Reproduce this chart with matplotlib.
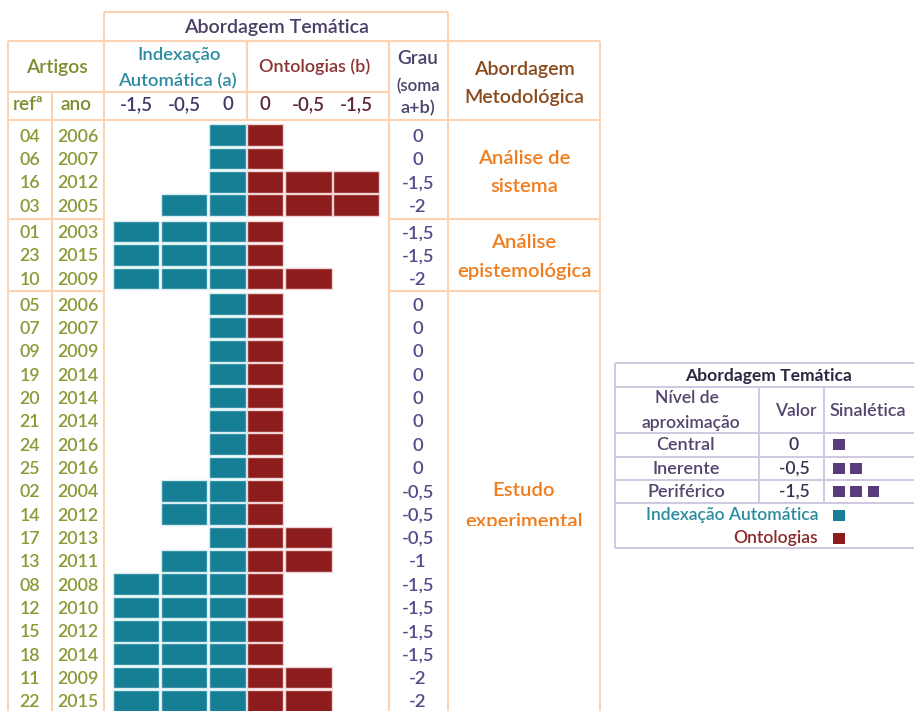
import matplotlib
matplotlib.use('Agg')
import matplotlib.pyplot as plt
from matplotlib.patches import Rectangle

# ---------------- data ----------------
refs = ['04', '06', '16', '03', '01', '23', '10', '05', '07', '09', '19', '20', '21',
        '24', '25', '02', '14', '17', '13', '08', '12', '15', '18', '11', '22']
anos = [2006, 2007, 2012, 2005, 2003, 2015, 2009, 2006, 2007, 2009, 2014, 2014, 2014,
        2016, 2016, 2004, 2012, 2013, 2011, 2008, 2010, 2012, 2014, 2009, 2015]
indexacao = [0, 0, 0, -0.5, -1.5, -1.5, -1.5, 0, 0, 0, 0, 0, 0,
             0, 0, -0.5, -0.5, 0, -0.5, -1.5, -1.5, -1.5, -1.5, -1.5, -1.5]
ontologias = [0, 0, -1.5, -1.5, 0, 0, -0.5, 0, 0, 0, 0, 0, 0,
              0, 0, 0, 0, -0.5, -0.5, 0, 0, 0, 0, -0.5, -0.5]
grau = [0, 0, -1.5, -2, -1.5, -1.5, -2, 0, 0, 0, 0, 0, 0,
        0, 0, -0.5, -0.5, -0.5, -1, -1.5, -1.5, -1.5, -1.5, -2, -2]
grupos = ['Análise de\nsistema', 'Análise\nepistemológica', 'Estudo\nexperimental']
grupo_n = [4, 3, 18]
niveis_a = ['-1,5', '-0,5', '0']
niveis_b = ['0', '-0,5', '-1,5']
leg_niveis = ['Central', 'Inerente', 'Periférico']
leg_valores = ['0', '-0,5', '-1,5']
leg_blocos = [1, 2, 3]
blocos = {0: 1, -0.5: 2, -1.5: 3}

def fmt(v):
    return ('%g' % v).replace('.', ',')

plt.rcParams['font.family'] = ['Lato', 'DejaVu Sans']
plt.rcParams['font.weight'] = 'semibold'

# ---------------- colours ----------------
LC = '#fbd3b3'
TEAL = '#177f95'
RED = '#8d1c1d'
OLIVE = '#8a9a36'
PURP = '#584a8a'
ORANGE = '#f07c1c'

W, H = 914, 711
fig = plt.figure(figsize=(9.14, 7.11), dpi=100)
ax = fig.add_axes([0, 0, 1, 1])
ax.set_xlim(0, W)
ax.set_ylim(H, 0)
ax.axis('off')

def hline(y, x0, x1, c=LC, lw=1.5):
    ax.plot([x0, x1], [y, y], color=c, lw=lw, solid_capstyle='butt', zorder=1)

def vline(x, y0, y1, c=LC, lw=1.5):
    ax.plot([x, x], [y0, y1], color=c, lw=lw, solid_capstyle='butt', zorder=1)

# ---------------- table grid ----------------
hline(12, 104, 448)
vline(104, 12, 41); vline(448, 12, 41)
hline(41, 8, 600)
hline(92, 8, 389)
hline(120, 8, 600)
vline(8, 41, H); vline(52, 92, H); vline(104, 41, H)
vline(247, 41, 120); vline(389, 41, H); vline(448, 41, H); vline(600, 41, H)

# rows layout
P = 23.33
starts = [123.5, 220.0, 292.5]
seps = [218.5, 291.0]
for s in seps:
    hline(s, 8, 104)
    hline(s, 389, 600)

ycent = []
for g, n in enumerate(grupo_n):
    for i in range(n):
        ycent.append(starts[g] + (i + 0.5) * P)

# ---------------- header text ----------------
HF = 13.6
NF = 13.5
ax.text(276, 28, 'Abordagem Temática', ha='center', va='center', fontsize=HF + 0.5, color='#4a3f66')
ax.text(57, 67, 'Artigos', ha='center', va='center', fontsize=HF + 0.3, color='#7d8c2e')
ax.text(179, 55, 'Indexação', ha='center', va='center', fontsize=HF - 0.3, color='#2b8ba0')
ax.text(177, 81, 'Automática (a)', ha='center', va='center', fontsize=HF - 0.3, color='#2b8ba0')
ax.text(315, 67, 'Ontologias (b)', ha='center', va='center', fontsize=HF - 0.6, color='#8b3232')
ax.text(418, 58, 'Grau', ha='center', va='center', fontsize=HF, color='#4a4068')
ax.text(418, 86, '(soma', ha='center', va='center', fontsize=HF - 1.5, color='#4a4068')
ax.text(418, 108, 'a+b)', ha='center', va='center', fontsize=HF - 0.5, color='#4a4068')
ax.text(524, 69, 'Abordagem', ha='center', va='center', fontsize=HF + 0.5, color='#8a4a1c')
ax.text(524, 97, 'Metodológica', ha='center', va='center', fontsize=HF + 0.5, color='#8a4a1c')
ax.text(28, 105, 'refª', ha='center', va='center', fontsize=HF, color='#7d8c2e')
ax.text(76, 105, 'ano', ha='center', va='center', fontsize=HF, color='#7d8c2e')

# block geometry (x extents of each level cell)
a_cells = [(209, 246), (161, 207), (113, 159)]   # level 0, -0.5, -1.5 (teal, leftwards)
b_cells = [(247, 283), (285, 332), (333, 379)]   # level 0, -0.5, -1.5 (red, rightwards)
for k, lab in enumerate(niveis_b):
    x0, x1 = b_cells[k]
    ax.text((x0 + x1) / 2, 105, lab, ha='center', va='center', fontsize=NF, color='#5a2633')
for k, lab in enumerate(niveis_a):
    x0, x1 = a_cells[2 - k]
    ax.text((x0 + x1) / 2, 105, lab, ha='center', va='center', fontsize=NF, color='#3b3a6a')

# ---------------- bars ----------------
BH = 21.5
for k in range(3):
    ys = [y for y, v in zip(ycent, indexacao) if blocos[v] > k]
    x0, x1 = a_cells[k]
    ax.barh(ys, [x1 - x0] * len(ys), left=x0, height=BH, color=TEAL,
            edgecolor='#d5eef2', linewidth=1.0, zorder=3)
    ys = [y for y, v in zip(ycent, ontologias) if blocos[v] > k]
    x0, x1 = b_cells[k]
    ax.barh(ys, [x1 - x0] * len(ys), left=x0, height=BH, color=RED,
            edgecolor='#f2d4d4', linewidth=1.0, zorder=3)

# ---------------- row text ----------------
RF = 12.8
for y, r, a, gv in zip(ycent, refs, anos, grau):
    ax.text(30, y + 1.5, r, ha='center', va='center', fontsize=RF, color=OLIVE)
    ax.text(78, y + 1.5, str(a), ha='center', va='center', fontsize=RF, color=OLIVE)
    ax.text(418, y + 1.5, fmt(gv), ha='center', va='center', fontsize=NF - 0.3, color=PURP)

# group labels
gy = [(159, 187), (242, 271), (491, 521)]
for (y1, y2), lab in zip(gy, grupos):
    l1, l2 = lab.split('\n')
    ax.text(524, y1, l1, ha='center', va='center', fontsize=14.6, color=ORANGE)
    t = ax.text(524, y2, l2, ha='center', va='center', fontsize=14.6, color=ORANGE)
    if l2 == 'experimental':
        clip = Rectangle((448, 0), 152, 525.5, transform=ax.transData)
        t.set_clip_on(True)
        t.set_clip_path(clip)

# ---------------- legend table ----------------
LL = '#cdc4df'
LX0, LX1 = 615, 920
for yy in [363, 387, 433, 457, 480, 503, 548]:
    hline(yy, LX0, LX1, LL, 1.3)
vline(LX0, 363, 548, LL, 1.3)
vline(759, 387, 503, LL, 1.3)
vline(824, 387, 503, LL, 1.3)

LFS = 12.6
LTC = '#55456e'
ax.text(769, 376, 'Abordagem Temática', ha='center', va='center', fontsize=LFS,
        fontweight='bold', color='#2e2640')
ax.text(687, 398, 'Nível de', ha='center', va='center', fontsize=LFS, color=LTC)
ax.text(691, 423, 'aproximação', ha='center', va='center', fontsize=LFS, color=LTC)
ax.text(796, 411, 'Valor', ha='center', va='center', fontsize=LFS, color=LTC)
ax.text(830, 411, 'Sinalética', ha='left', va='center', fontsize=LFS + 0.5, color=LTC)
leg_y = [445, 469, 492]
SQ = '#573d7c'
for y, n, v, b in zip(leg_y, leg_niveis, leg_valores, leg_blocos):
    ax.text(686, y, n, ha='center', va='center', fontsize=LFS + 0.5, color=LTC)
    ax.text(794, y, v, ha='center', va='center', fontsize=LFS, color='#3a3050')
    ax.barh([y - 1] * b, [11.5] * b, left=[833 + 17.3 * i for i in range(b)],
            height=11, color=SQ, zorder=3)
ax.text(818, 515, 'Indexação Automática', ha='right', va='center', fontsize=LFS, color='#2a8ca0')
ax.barh([515], [11.5], left=833, height=11, color=TEAL, zorder=3)
ax.text(818, 538, 'Ontologias', ha='right', va='center', fontsize=LFS, color='#8a2a2a')
ax.barh([538], [11.5], left=833, height=11, color=RED, zorder=3)

fig.savefig('out.png', dpi=100)
